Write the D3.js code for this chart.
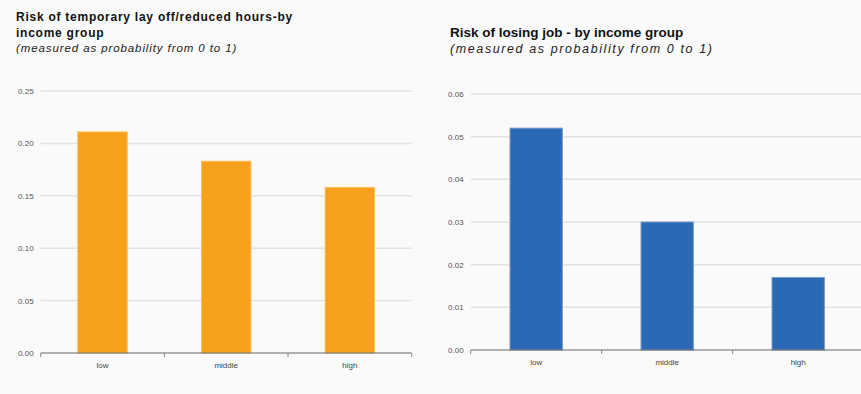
<!DOCTYPE html>
<html>
<head>
<meta charset="utf-8">
<script src="https://cdn.jsdelivr.net/npm/d3@7"></script>
<style>
  body { margin: 0; background: #fafafa; }
  svg { display: block; font-family: "Liberation Sans", Arial, sans-serif; }
</style>
</head>
<body>
<div id="container"></div>
<script>
let w = 861;
let h = 394;

// DATA
let groups = ["low", "middle", "high"];
let layoffValues = [0.211, 0.183, 0.158];
let losingValues = [0.052, 0.030, 0.017];
let layoffTicks = [0, 0.05, 0.10, 0.15, 0.20, 0.25];
let losingTicks = [0, 0.01, 0.02, 0.03, 0.04, 0.05, 0.06];

let viz = d3.select("#container").append("svg")
    .attr("width", w)
    .attr("height", h)
    .style("background-color", "#fafafa");

function drawChart(opts) {
  let g = viz.append("g");

  // titles
  opts.title.forEach(function(t, i) {
    g.append("text")
      .attr("x", opts.titleX)
      .attr("y", opts.titleY + i * 16.5)
      .attr("font-size", opts.titleSize)
      .attr("font-weight", "bold")
      .attr("fill", "#111")
      .style("letter-spacing", opts.titleSpacing + "px")
      .text(t);
  });
  g.append("text")
    .attr("x", opts.titleX)
    .attr("y", opts.subY)
    .attr("font-size", opts.subSize)
    .attr("font-style", "italic")
    .attr("fill", "#222")
    .style("letter-spacing", opts.subSpacing + "px")
    .text("(measured as probability from 0 to 1)");

  let xScale = d3.scaleBand().domain(groups)
      .range([opts.x0, opts.x1])
      .paddingInner(0.6).paddingOuter(0.3);
  let yScale = d3.scaleLinear().domain([0, opts.max]).range([opts.y0, opts.y1]);

  // gridlines
  g.selectAll(".grid").data(opts.ticks.slice(1)).enter()
    .append("line")
      .attr("x1", opts.x0)
      .attr("x2", opts.gridEnd)
      .attr("y1", function(d) { return yScale(d); })
      .attr("y2", function(d) { return yScale(d); })
      .attr("stroke", "#e2e2e2")
      .attr("stroke-width", 1.5);

  // y labels
  g.selectAll(".ylab").data(opts.ticks).enter()
    .append("text")
      .attr("x", opts.x0 - 7)
      .attr("y", function(d) { return yScale(d) + 3; })
      .attr("text-anchor", "end")
      .attr("font-size", 8)
      .attr("fill", "#555")
      .text(function(d) { return d3.format(opts.fmt)(d); });

  // bars
  g.selectAll(".bar").data(opts.values).enter()
    .append("rect")
      .attr("x", function(d, i) { return xScale(groups[i]); })
      .attr("y", function(d) { return yScale(d); })
      .attr("width", xScale.bandwidth())
      .attr("height", function(d) { return yScale(0) - yScale(d); })
      .attr("fill", opts.color)
      .attr("stroke", opts.stroke)
      .attr("stroke-width", 1);

  // x axis
  let step = xScale.step();
  g.append("line")
    .attr("x1", opts.x0).attr("x2", opts.gridEnd)
    .attr("y1", yScale(0)).attr("y2", yScale(0))
    .attr("stroke", "#666").attr("stroke-width", 1);
  g.selectAll(".xtick").data(d3.range(groups.length + 1)).enter()
    .append("line")
      .attr("x1", function(d) { return opts.x0 + d * step; })
      .attr("x2", function(d) { return opts.x0 + d * step; })
      .attr("y1", yScale(0))
      .attr("y2", yScale(0) + 4)
      .attr("stroke", "#888");
  g.selectAll(".xlab").data(groups).enter()
    .append("text")
      .attr("x", function(d) { return xScale(d) + xScale.bandwidth() / 2; })
      .attr("y", yScale(0) + 15)
      .attr("text-anchor", "middle")
      .attr("font-size", 8)
      .attr("fill", "#444")
      .text(function(d) { return d; });
}

drawChart({
  title: ["Risk of temporary lay off/reduced hours-by", "income group"],
  titleX: 16, titleY: 20.5, titleSize: 12, titleSpacing: 0.75,
  subY: 51.5, subSize: 11.5, subSpacing: 0.9,
  values: layoffValues, ticks: layoffTicks, max: 0.25, fmt: ".2f",
  x0: 40.7, x1: 411.7, gridEnd: 411.7, y0: 353, y1: 91,
  color: "#f6a01c", stroke: "#fbc060"
});

drawChart({
  title: ["Risk of losing job - by income group"],
  titleX: 450, titleY: 37.3, titleSize: 13.5, titleSpacing: 0,
  subY: 52.5, subSize: 12.5, subSpacing: 1.6,
  values: losingValues, ticks: losingTicks, max: 0.06, fmt: ".2f",
  x0: 470.7, x1: 863.7, gridEnd: 861, y0: 350, y1: 94,
  color: "#2a6ab4", stroke: "#7f9cc0"
});
</script>
</body>
</html>
